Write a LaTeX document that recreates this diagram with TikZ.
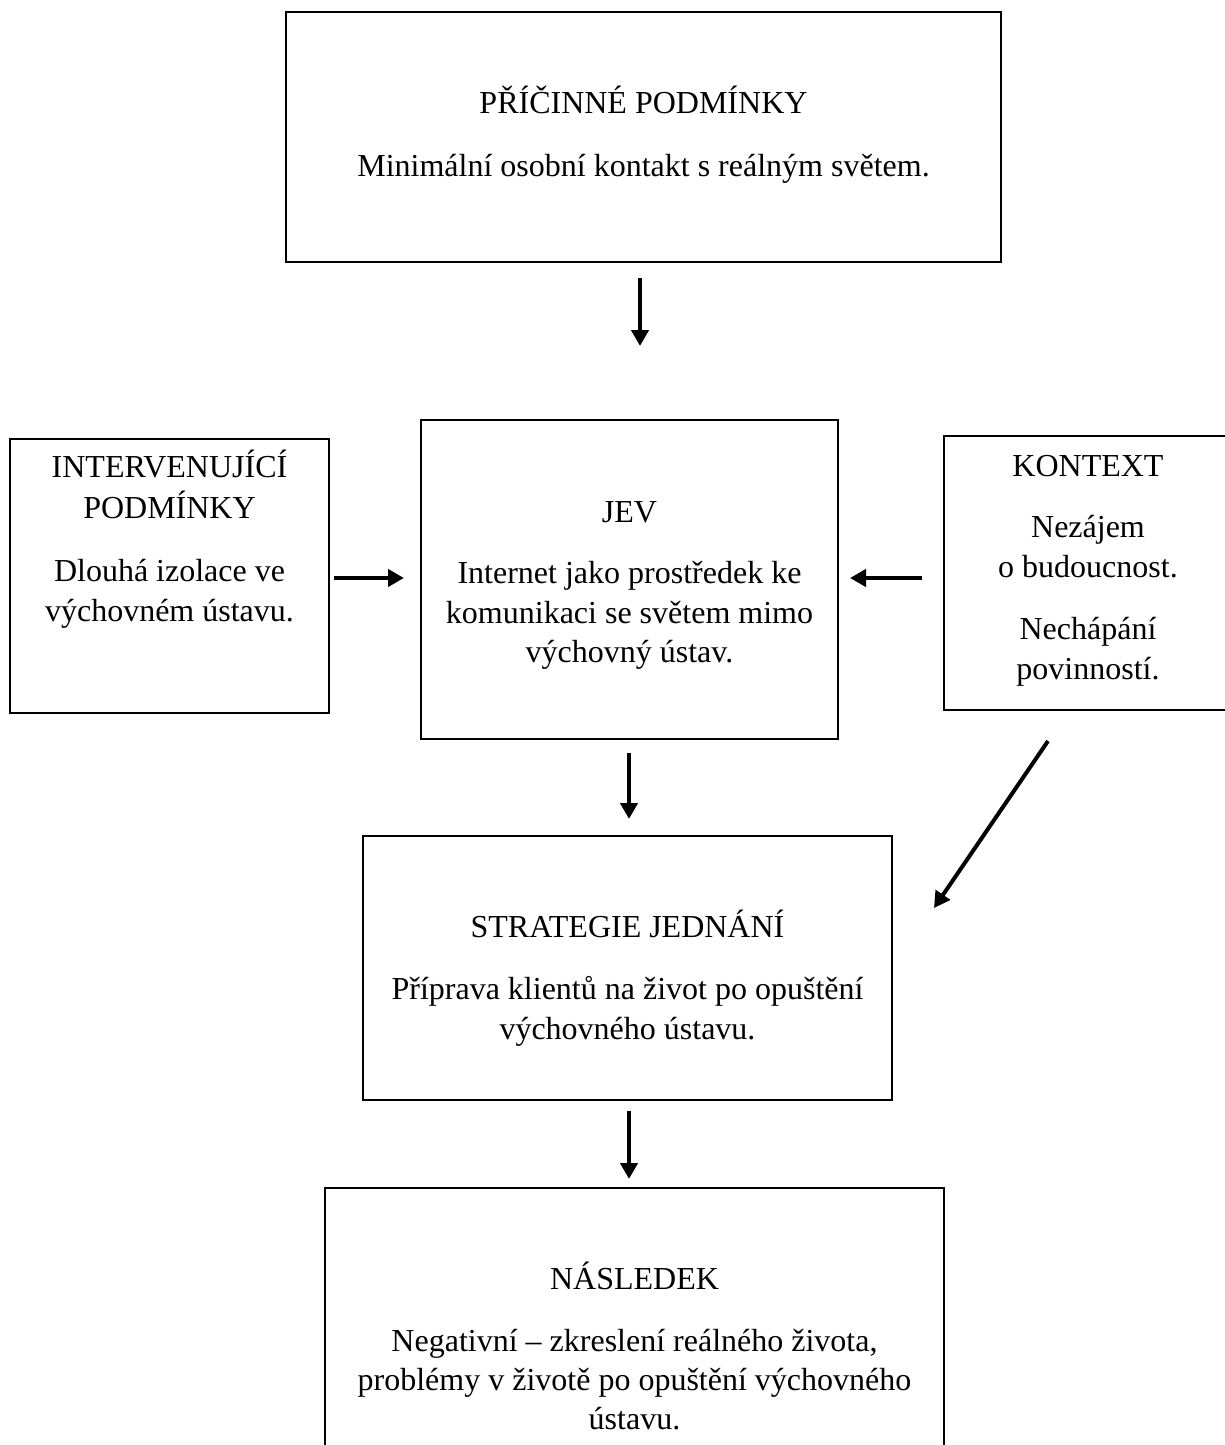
\documentclass[tikz,border=0pt]{standalone}
\usepackage{fontspec}
\setmainfont{Liberation Serif}
\usetikzlibrary{arrows.meta}
\begin{document}
\begin{tikzpicture}[x=1pt,y=-1pt,
  box/.style={draw, line width=2pt, inner sep=0pt},
  txt/.style={anchor=base, inner sep=0pt, font=\fontsize{32}{40}\selectfont},
  arr/.style={line width=4pt, -{Triangle[length=16pt,width=17pt]}}]
\useasboundingbox (0,0) rectangle (1225,1445);
\fill[white] (0,0) rectangle (1225,1445);
% boxes
\node[box, minimum width=715, minimum height=250] (top) at (643.5,137) {};
\node[box, minimum width=319, minimum height=274] (left) at (169.5,576) {};
\node[box, minimum width=417, minimum height=319] (jev) at (629.5,579.5) {};
\node[box, minimum width=288, minimum height=274] (right) at (1088,573) {};
\node[box, minimum width=529, minimum height=264] (strat) at (627.5,968) {};
\node[box, minimum width=619, minimum height=282] (bottom) at (634.5,1329) {};
% texts
\node[txt] (top1) at (643.5,113) {PŘÍČINNÉ PODMÍNKY};
\node[txt] (top2) at (643.5,176) {Minimální osobní kontakt s reálným světem.};
\node[txt] (left1) at (169.5,477) {INTERVENUJÍCÍ};
\node[txt] (left2) at (169.5,518) {PODMÍNKY};
\node[txt] (left3) at (169.5,581) {Dlouhá izolace ve};
\node[txt] (left4) at (169.5,621) {výchovném ústavu.};
\node[txt] (jev1) at (629.5,522) {JEV};
\node[txt] (jev2) at (629.5,583) {Internet jako prostředek ke};
\node[txt] (jev3) at (629.5,623) {komunikaci se světem mimo};
\node[txt] (jev4) at (629.5,662) {výchovný ústav.};
\node[txt] (right1) at (1088,476) {KONTEXT};
\node[txt] (right2) at (1088,537) {Nezájem};
\node[txt] (right3) at (1088,577) {o budoucnost.};
\node[txt] (right4) at (1088,639) {Nechápání};
\node[txt] (right5) at (1088,679) {povinností.};
\node[txt] (strat1) at (627.5,937) {STRATEGIE JEDNÁNÍ};
\node[txt] (strat2) at (627.5,999) {Příprava klientů na život po opuštění};
\node[txt] (strat3) at (627.5,1039) {výchovného ústavu.};
\node[txt] (bot1) at (634.5,1289) {NÁSLEDEK};
\node[txt] (bot2) at (634.5,1351) {Negativní – zkreslení reálného života,};
\node[txt] (bot3) at (634.5,1390) {problémy v životě po opuštění výchovného};
\node[txt] (bot4) at (634.5,1429) {ústavu.};
% arrows
\draw[arr] ([xshift=-3.5pt,yshift=-15pt]top.south) -- ([xshift=10.5pt,yshift=73pt]jev.north);
\draw[arr] ([xshift=4pt,yshift=-2pt]left.east) -- ([xshift=-16pt,yshift=1.5pt]jev.west);
\draw[arr] ([xshift=-21pt,yshift=-5pt]right.west) -- ([xshift=11pt,yshift=1.5pt]jev.east);
\draw[arr] ([xshift=-0.5pt,yshift=-13pt]jev.south) -- ([xshift=1.5pt,yshift=16pt]strat.north);
\draw[arr] ([xshift=-40pt,yshift=-30pt]right.south) -- ([xshift=41pt,yshift=60pt]strat.east);
\draw[arr] ([xshift=1.5pt,yshift=-10pt]strat.south) -- ([xshift=-5.5pt,yshift=8pt]bottom.north);
\end{tikzpicture}
\end{document}
